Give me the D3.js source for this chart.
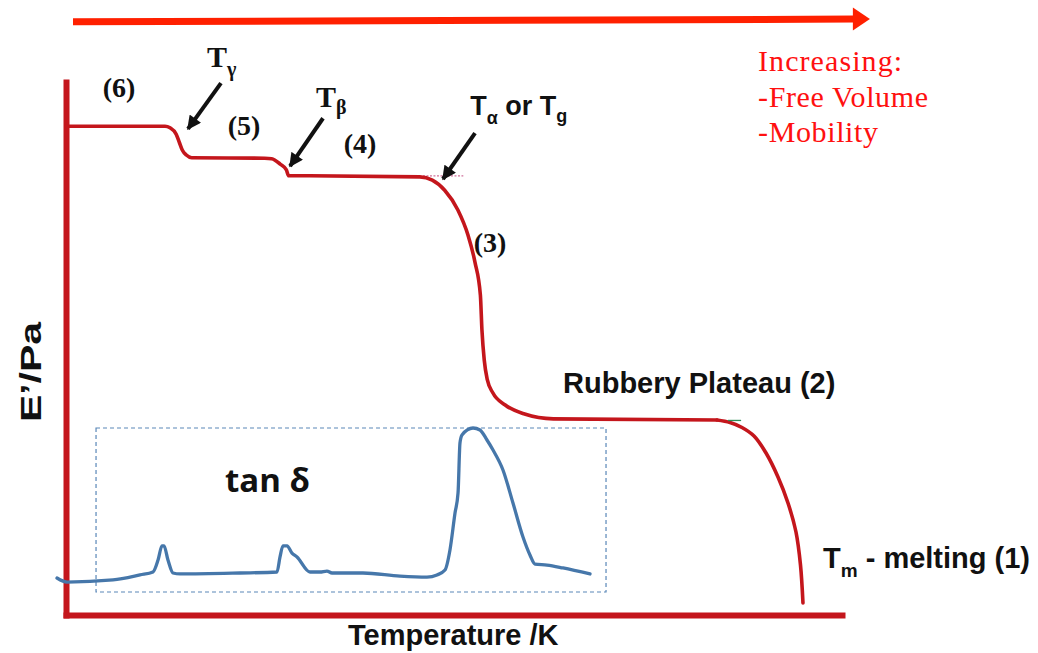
<!DOCTYPE html>
<html>
<head>
<meta charset="utf-8">
<script src="https://cdn.jsdelivr.net/npm/d3@7"></script>
<style>
  html, body { margin: 0; padding: 0; background: #ffffff; }
  svg { display: block; }
</style>
</head>
<body>
<script>
// Storage modulus E' across the temperature sweep (arbitrary relative units)
const modulusTemp = [0, 12.76, 13.4, 14.2, 14.6, 15.0, 15.5, 16.2, 25.6, 26.5, 27.6, 28.4, 28.7, 29.3,
  45.6, 47.2, 48.8, 50.5, 51.8, 52.7, 53.4, 53.6, 53.9, 54.3, 55.0, 56.6, 59.1, 62.8,
  83.89, 85.57, 87.11, 88.66, 90.21, 91.75, 93.04, 94.07, 94.65, 94.97];
const modulusValue = [91.7, 91.7, 91.4, 90.2, 88.7, 87.2, 86.3, 85.8, 85.7, 85.6, 84.6, 83.5, 82.4, 82.4,
  82.2, 81.6, 79.7, 76.0, 71.3, 66.2, 60.0, 53.5, 47.8, 44.1, 41.7, 39.4, 37.7, 36.8,
  36.59, 36.12, 35.18, 33.58, 30.39, 25.89, 21.01, 15.57, 9.38, 2.25];
// temperature where the rubbery plateau gives way to melting
const meltOnset = 83.89;

// Loss tangent (tan δ) over the same sweep
const tanDeltaTemp = [-1.16, 0.13, 6.06, 9.54, 11.21, 11.86, 12.37, 12.63, 13.14, 13.79, 14.69, 22.42,
  27.19, 27.58, 27.96, 28.48, 29.12, 29.77, 31.44, 32.73, 33.63, 34.28, 38.27, 43.04, 46.52,
  47.81, 48.84, 49.48, 50.13, 50.52, 50.77, 51.03, 52.45, 53.35, 54.25, 55.03, 56.31, 57.60,
  58.89, 59.79, 60.44, 61.98, 64.05, 67.53];
const tanDeltaValue = [0.074, 0.049, 0.062, 0.093, 0.111, 0.185, 0.272, 0.272, 0.185, 0.105, 0.099, 0.105,
  0.111, 0.204, 0.272, 0.272, 0.228, 0.204, 0.111, 0.111, 0.117, 0.105, 0.105, 0.086, 0.080,
  0.093, 0.123, 0.247, 0.475, 0.599, 0.907, 0.957, 1.0, 0.988, 0.926, 0.864, 0.741, 0.537,
  0.327, 0.216, 0.160, 0.154, 0.136, 0.099];

// Region numbers along the modulus curve
const regionLabels = ["(6)", "(5)", "(4)", "(3)"];
const regionTemp = [6.83, 22.94, 37.89, 54.64];
const regionValue = [97.19, 90.06, 86.68, 68.11];

// Side note about the heating direction
const noteLines = ["Increasing:", "-Free Volume", "-Mobility"];

const W = 1038, H = 653;
const svg = d3.select("body").append("svg")
  .attr("width", W).attr("height", H)
  .attr("viewBox", `0 0 ${W} ${H}`);

const x = d3.scaleLinear().domain([0, 100]).range([66, 842]);
const y = d3.scaleLinear().domain([0, 100]).range([615, 82]);
const yTan = d3.scaleLinear().domain([0, 1]).range([590, 428]);

const RED = "#c4161c";
const BLUE = "#4677aa";
const SANS = "'Liberation Sans', Arial, sans-serif";
const SERIF = "'Liberation Serif', 'Times New Roman', serif";

// markers
const defs = svg.append("defs");
defs.append("marker")
  .attr("id", "blackHead")
  .attr("viewBox", "0 0 10 10")
  .attr("refX", 9).attr("refY", 5)
  .attr("markerUnits", "userSpaceOnUse")
  .attr("markerWidth", 15).attr("markerHeight", 14)
  .attr("orient", "auto")
  .append("path").attr("d", "M0,0 L10,5 L0,10 Z").attr("fill", "#111");

// Heating-direction arrow across the top
const arrowStart = [0.9, 111.3], arrowEnd = [101.4, 111.8], arrowTip = 103.6;
svg.append("line")
  .attr("x1", x(arrowStart[0])).attr("y1", y(arrowStart[1]))
  .attr("x2", x(arrowEnd[0]) + 1).attr("y2", y(arrowEnd[1]))
  .attr("stroke", "#ff2000").attr("stroke-width", 7);
svg.append("path")
  .attr("d", `M${x(arrowEnd[0])},${y(arrowEnd[1]) - 11.5} L${x(arrowTip)},${y(arrowEnd[1])} L${x(arrowEnd[0])},${y(arrowEnd[1]) + 11.5} Z`)
  .attr("fill", "#ff2000");

// Axes: bare domain lines, no ticks
const xAxis = svg.append("g")
  .attr("transform", `translate(0,${y(0)})`)
  .call(d3.axisBottom(x).ticks(0).tickSizeOuter(0));
const yAxis = svg.append("g")
  .attr("transform", `translate(${x(0)},0)`)
  .call(d3.axisLeft(y).ticks(0).tickSizeOuter(0));
[xAxis, yAxis].forEach(g => g.select(".domain")
  .attr("stroke", RED).attr("stroke-width", 6).attr("stroke-linecap", "square"));

// tan δ frame
const boxT = [3.87, 69.59], boxV = [-0.0123, 1.0];
svg.append("rect")
  .attr("x", x(boxT[0])).attr("y", yTan(boxV[1]))
  .attr("width", x(boxT[1]) - x(boxT[0]))
  .attr("height", yTan(boxV[0]) - yTan(boxV[1]))
  .attr("fill", "none").attr("stroke", "#5a87b8")
  .attr("stroke-width", 1.2).attr("stroke-dasharray", "4,3");

// tan δ curve
const tanData = tanDeltaTemp.map((t, i) => [t, tanDeltaValue[i]]);
svg.append("path")
  .datum(tanData)
  .attr("d", d3.line().x(d => x(d[0])).y(d => yTan(d[1])).curve(d3.curveMonotoneX))
  .attr("fill", "none").attr("stroke", BLUE).attr("stroke-width", 3.3)
  .attr("stroke-linejoin", "round").attr("stroke-linecap", "round");

// Tangent guide at the glass transition onset
svg.append("line")
  .attr("x1", x(46.0)).attr("x2", x(51.2))
  .attr("y1", y(82.4)).attr("y2", y(82.4))
  .attr("stroke", "#d0709a").attr("stroke-width", 1.2).attr("stroke-dasharray", "2,1.5");

// Modulus curve: glassy/transition part, then the melting drop
const modData = modulusTemp.map((t, i) => [t, modulusValue[i]]);
const solidPart = modData.filter(d => d[0] <= meltOnset);
const meltPart = modData.filter(d => d[0] >= meltOnset);
svg.append("path")
  .datum(solidPart)
  .attr("d", d3.line().x(d => x(d[0])).y(d => y(d[1])).curve(d3.curveMonotoneX))
  .attr("fill", "none").attr("stroke", RED).attr("stroke-width", 3.6)
  .attr("stroke-linejoin", "round").attr("stroke-linecap", "round");
svg.append("path")
  .datum(meltPart)
  .attr("d", d3.line().x(d => x(d[0])).y(d => y(d[1])).curve(d3.curveCatmullRom.alpha(0.5)))
  .attr("fill", "none").attr("stroke", RED).attr("stroke-width", 3.6)
  .attr("stroke-linejoin", "round").attr("stroke-linecap", "round");

// Tangent tick where the plateau ends
svg.append("line")
  .attr("x1", x(85.3)).attr("x2", x(87.0))
  .attr("y1", y(36.5)).attr("y2", y(36.5))
  .attr("stroke", "#2e8b57").attr("stroke-width", 1.3);

// Transition pointers
const pointers = [
  [[19.97, 99.8], [15.72, 91.2]],
  [[33.12, 93.2], [28.87, 84.2]],
  [[52.71, 90.4], [48.58, 81.8]]
];
svg.selectAll("line.pointer").data(pointers).join("line")
  .attr("class", "pointer")
  .attr("x1", d => x(d[0][0])).attr("y1", d => y(d[0][1]))
  .attr("x2", d => x(d[1][0])).attr("y2", d => y(d[1][1]))
  .attr("stroke", "#111").attr("stroke-width", 4)
  .attr("marker-end", "url(#blackHead)");

// Region numbers
svg.selectAll("text.region").data(regionLabels).join("text")
  .attr("class", "region")
  .attr("x", (d, i) => x(regionTemp[i])).attr("y", (d, i) => y(regionValue[i]))
  .attr("text-anchor", "middle")
  .attr("font-family", SERIF).attr("font-weight", "bold").attr("font-size", 28)
  .attr("fill", "#111").text(d => d);

// Tγ and Tβ
function subLabel(tx, vy, family, size, subSize, main, sub, dy) {
  const t = svg.append("text")
    .attr("x", x(tx)).attr("y", y(vy))
    .attr("font-family", family).attr("font-weight", "bold")
    .attr("font-size", size).attr("fill", "#111");
  t.append("tspan").text(main);
  t.append("tspan").attr("font-size", subSize).attr("dy", dy).text(sub);
  return t;
}
subLabel(18.17, 102.81, SERIF, 30, 20, "T", "γ", 9);
subLabel(32.22, 95.31, SERIF, 30, 20, "T", "β", 7);

// Tα or Tg
const ta = svg.append("text")
  .attr("x", x(52.1)).attr("y", y(93.81))
  .attr("font-family", SANS).attr("font-weight", "bold")
  .attr("font-size", 27).attr("fill", "#111");
ta.append("tspan").text("T");
ta.append("tspan").attr("font-size", 18).attr("dy", 9).text("α");
ta.append("tspan").attr("dy", -9).text(" or T");
ta.append("tspan").attr("font-size", 18).attr("dy", 7).text("g");

// Rubbery plateau
svg.append("text")
  .attr("x", x(64.05)).attr("y", y(41.65))
  .attr("font-family", SANS).attr("font-weight", "bold")
  .attr("font-size", 29).attr("fill", "#111")
  .text("Rubbery Plateau (2)");

// Melting
const tm = svg.append("text")
  .attr("x", x(97.55)).attr("y", y(8.82))
  .attr("font-family", SANS).attr("font-weight", "bold")
  .attr("font-size", 29).attr("fill", "#111");
tm.append("tspan").text("T");
tm.append("tspan").attr("font-size", 19).attr("dy", 9).text("m");
tm.append("tspan").attr("dy", -9).text(" - melting (1)");

// tan δ title
svg.append("text")
  .attr("x", x(20.49)).attr("y", y(23.08))
  .attr("font-family", "'Open Sans', sans-serif").attr("font-weight", "bold")
  .attr("font-size", 33).attr("fill", "#111")
  .text("tan δ");

// Axis titles
svg.append("text")
  .attr("x", x(36.34)).attr("y", y(-5.63))
  .attr("font-family", SANS).attr("font-weight", "bold")
  .attr("font-size", 29).attr("fill", "#111")
  .text("Temperature /K");

svg.append("text")
  .attr("transform", `translate(${x(-3.22)},${y(45.59)}) rotate(-90)`)
  .attr("text-anchor", "middle")
  .attr("font-family", SANS).attr("font-weight", "bold")
  .attr("font-size", 30).attr("fill", "#111")
  .attr("textLength", 100).attr("lengthAdjust", "spacingAndGlyphs")
  .text("E’/Pa");

// Note
const noteY = [102.06, 95.31, 88.74];
const noteW = [144, 170, 120];
svg.selectAll("text.note").data(noteLines).join("text")
  .attr("class", "note")
  .attr("x", x(89.18)).attr("y", (d, i) => y(noteY[i]))
  .attr("font-family", SERIF).attr("font-size", 30).attr("fill", "#ff1010")
  .attr("textLength", (d, i) => noteW[i]).attr("lengthAdjust", "spacing")
  .text(d => d);
</script>
</body>
</html>
